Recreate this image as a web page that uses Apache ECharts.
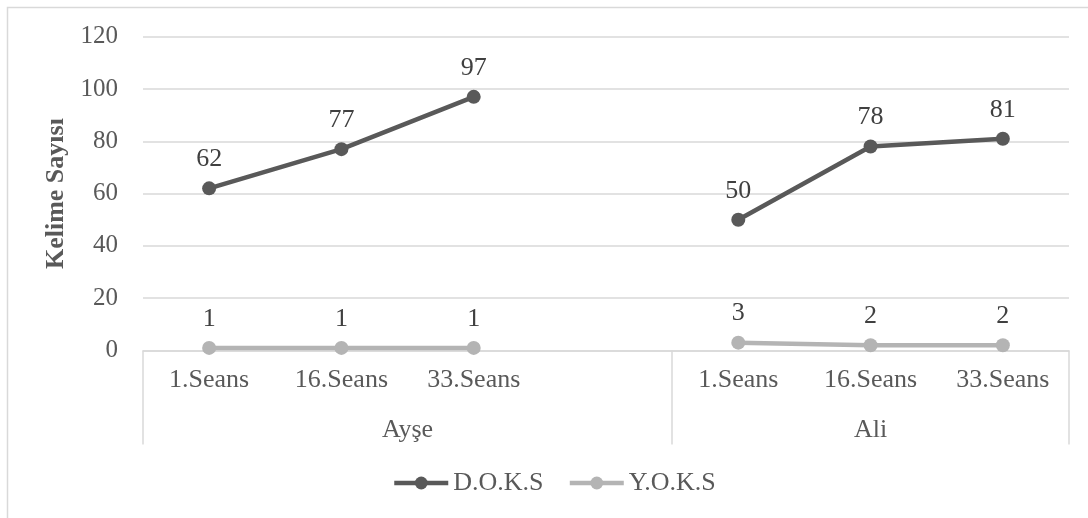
<!DOCTYPE html>
<html>
<head>
<meta charset="utf-8">
<title>Kelime Sayısı</title>
<script src="https://cdn.jsdelivr.net/npm/echarts@6/dist/echarts.min.js"></script>
<style>
  html, body { margin: 0; padding: 0; background: #ffffff; }
  #chart { width: 1088px; height: 518px; }
</style>
</head>
<body>
<div id="chart"></div>
<script>
// Session labels per student; an empty slot separates the two groups
const sessions = ['1.Seans', '16.Seans', '33.Seans', '', '1.Seans', '16.Seans', '33.Seans'];
// Student groups and how many category slots each one spans
const groups = ['Ayşe', 'Ali'];
const groupSizes = [4, 3];
// Word counts per session (null = gap between groups)
const doksValues = [62, 77, 97, null, 50, 78, 81];
const yoksValues = [1, 1, 1, null, 3, 2, 2];
const seriesNames = ['D.O.K.S', 'Y.O.K.S'];
const yTicks = { min: 0, max: 120, step: 20 };

// group boundaries and centres in category-slot units
const bounds = [0];
groupSizes.forEach(n => bounds.push(bounds[bounds.length - 1] + n));
const centres = groupSizes.map((n, i) => bounds[i] + n / 2);

const FONT = '"Liberation Serif", "Times New Roman", serif';
const TXT = '#595959';
const GRID = '#d9d9d9';
const DARK = '#595959';
const LIGHT = '#b4b4b4';

const chart = echarts.init(document.getElementById('chart'), null, { renderer: 'canvas' });

const labelStyle = {
  show: true, position: 'top', distance: 9,
  fontFamily: FONT, fontSize: 26, color: '#404040'
};

chart.setOption({
  animation: false,
  backgroundColor: '#ffffff',
  graphic: [{
    type: 'rect',
    shape: { x: 7.5, y: 7.5, width: 1300, height: 1000 },
    style: { fill: 'none', stroke: GRID, lineWidth: 1.5 },
    silent: true
  }],
  grid: { left: 143, right: 19, top: 36.7, bottom: 167.5, containLabel: false },
  legend: {
    data: seriesNames,
    top: 465,
    left: 387,
    itemWidth: 54,
    itemHeight: 16,
    itemGap: 24,
    lineStyle: { width: 4.5 },
    textStyle: { fontFamily: FONT, fontSize: 26, color: TXT }
  },
  xAxis: [{
    type: 'category',
    data: sessions,
    boundaryGap: true,
    axisLine: { show: true, lineStyle: { color: GRID, width: 1.5 } },
    axisTick: { show: false },
    axisLabel: { fontFamily: FONT, fontSize: 26, color: TXT, margin: 17, interval: 0 },
    splitLine: { show: false }
  }, {
    type: 'value',
    position: 'bottom',
    min: 0,
    max: bounds[bounds.length - 1],
    axisLine: { show: false },
    axisTick: {
      show: true,
      customValues: bounds,
      length: 94,
      lineStyle: { color: GRID, width: 1.5 }
    },
    axisLabel: {
      customValues: centres,
      formatter: v => {
        const i = centres.indexOf(v);
        return i >= 0 ? groups[i] : '';
      },
      fontFamily: FONT, fontSize: 26, color: TXT, margin: 67
    },
    splitLine: { show: false }
  }],
  yAxis: {
    type: 'value',
    min: yTicks.min,
    max: yTicks.max,
    interval: yTicks.step,
    name: 'Kelime Sayısı',
    nameLocation: 'middle',
    nameGap: 71,
    nameTextStyle: { fontFamily: FONT, fontSize: 26, fontWeight: 'bold', color: TXT },
    axisLine: { show: false },
    axisTick: { show: false },
    axisLabel: { fontFamily: FONT, fontSize: 25, color: TXT, margin: 25 },
    splitLine: { lineStyle: { color: GRID, width: 1.5 } }
  },
  series: [{
    name: seriesNames[0],
    type: 'line',
    data: doksValues,
    connectNulls: false,
    symbol: 'circle',
    symbolSize: 14,
    color: DARK,
    lineStyle: { width: 4.5, color: DARK },
    itemStyle: { color: DARK },
    label: labelStyle
  }, {
    name: seriesNames[1],
    type: 'line',
    data: yoksValues,
    connectNulls: false,
    symbol: 'circle',
    symbolSize: 14,
    color: LIGHT,
    lineStyle: { width: 4.5, color: LIGHT },
    itemStyle: { color: LIGHT },
    label: labelStyle
  }]
});
</script>
</body>
</html>
